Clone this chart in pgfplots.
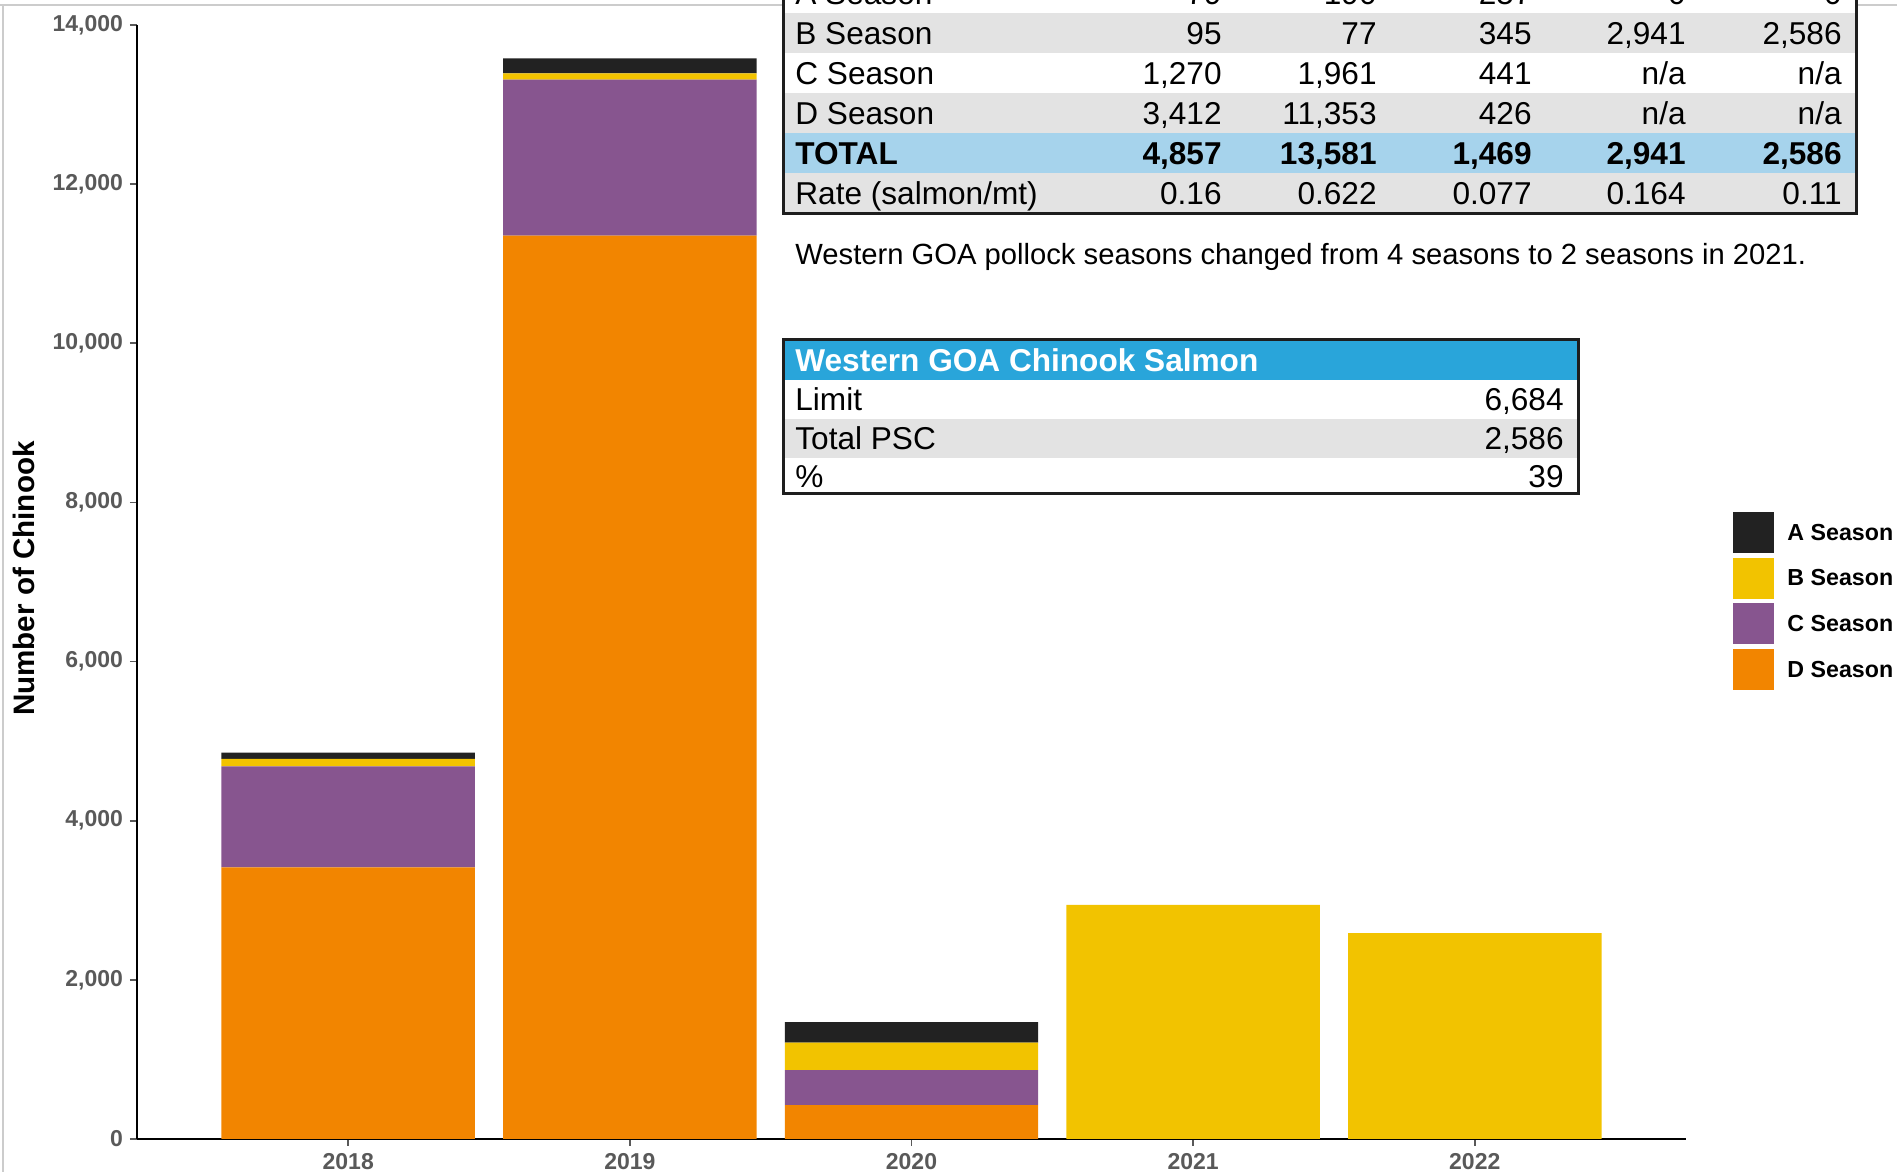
\documentclass[border=0pt]{standalone}
\usepackage{pgfplots}
\pgfplotsset{compat=1.18}
\usepackage{fontspec}
\setmainfont{Liberation Sans}

\definecolor{segA}{HTML}{222222}
\definecolor{segB}{HTML}{F2C300}
\definecolor{segC}{HTML}{87558F}
\definecolor{segD}{HTML}{F28500}
\definecolor{rowgray}{HTML}{E3E3E3}
\definecolor{rowblue}{HTML}{A6D3EC}
\definecolor{headblue}{HTML}{29A5DA}
\definecolor{ticktext}{HTML}{595959}
\definecolor{frame}{HTML}{1E1E1E}

% chinook by season and year
\pgfplotstableread{
x D C B A
0 3412 1270 95 79
1 11353 1961 77 190
2 426 441 345 257
3 0 0 2941 0
4 0 0 2586 0
}\chinook

\tikzset{tbl/.style={inner sep=0pt, font=\fontsize{15.8}{18}\selectfont}}
% one row of the top table: centre y, label, five values
\newcommand{\trow}[7]{%
  \node[tbl, anchor=base west] at (795,#1-11.3) {#2};
  \node[tbl, anchor=base east] at (1222,#1-11.3) {#3};
  \node[tbl, anchor=base east] at (1377,#1-11.3) {#4};
  \node[tbl, anchor=base east] at (1532,#1-11.3) {#5};
  \node[tbl, anchor=base east] at (1686,#1-11.3) {#6};
  \node[tbl, anchor=base east] at (1842,#1-11.3) {#7};
}

\begin{document}
\begin{tikzpicture}
\begin{scope}[x=0.5pt,y=0.5pt]
\draw[black!20, line width=0.75pt] (0,1167) -- (1897,1167);
\draw[black!20, line width=0.75pt] (3,0) -- (3,1167);
\end{scope}

\begin{axis}[
  at={(68.5pt,16.5pt)}, anchor=south west,
  scale only axis, width=774.5pt, height=557pt,
  ybar stacked, bar width=0.9,
  xmin=-0.75, xmax=4.75, ymin=0, ymax=14000,
  axis x line=bottom, axis y line=left,
  axis line style={line width=1.25pt, -},
  xtick={0,...,4}, xticklabels={2018,2019,2020,2021,2022},
  ytick={0,2000,...,14000},
  scaled y ticks=false,
  /pgf/number format/1000 sep={,},
  /pgf/number format/assume math mode=true,
  tick align=outside, major tick length=3.5pt,
  tick style={line width=0.8pt, ticktext},
  ticklabel style={font=\fontsize{11.5}{13}\selectfont\bfseries, text=ticktext},
  ylabel={Number of Chinook},
  ylabel style={font=\fontsize{14.8}{17}\selectfont\bfseries,
    at={(axis description cs:-0.073,0.503)}, anchor=center},
  reverse legend,
  legend image code/.code={\fill[#1] (0pt,-9.6pt) rectangle (20.5pt,10.9pt);},
  legend style={draw=none, fill=none, inner sep=0pt,
    at={(1.0304,0.5632)}, anchor=north west, row sep=2.3pt,
    /tikz/every odd column/.style={column sep=4.5pt},
    font=\fontsize{11.6}{13}\selectfont\bfseries},
  legend cell align=left,
]
\addplot[fill=segD, draw=none] table[x=x,y=D]{\chinook};
\addlegendentry{D Season}
\addplot[fill=segC, draw=none] table[x=x,y=C]{\chinook};
\addlegendentry{C Season}
\addplot[fill=segB, draw=none] table[x=x,y=B]{\chinook};
\addlegendentry{B Season}
\addplot[fill=segA, draw=none] table[x=x,y=A]{\chinook};
\addlegendentry{A Season}
\end{axis}

\begin{scope}[x=0.5pt,y=0.5pt]
% top table, cut by the top edge
\begin{scope}
\clip (0,0) rectangle (1897,1172);
\fill[white] (783,1159) rectangle (1856,1199);
\fill[rowgray] (783,1119) rectangle (1856,1159);
\fill[white] (783,1079) rectangle (1856,1119);
\fill[rowgray] (783,1039) rectangle (1856,1079);
\fill[rowblue] (783,999) rectangle (1856,1039);
\fill[rowgray] (783,958) rectangle (1856,999);
\trow{1179}{A Season}{79}{190}{257}{0}{0}
\trow{1139}{B Season}{95}{77}{345}{2,941}{2,586}
\trow{1099}{C Season}{1,270}{1,961}{441}{n/a}{n/a}
\trow{1059}{D Season}{3,412}{11,353}{426}{n/a}{n/a}
\trow{1019}{\textbf{TOTAL}}{\textbf{4,857}}{\textbf{13,581}}{\textbf{1,469}}{\textbf{2,941}}{\textbf{2,586}}
\trow{978.5}{Rate (salmon/mt)}{0.16}{0.622}{0.077}{0.164}{0.11}
\draw[frame, line width=1.5pt] (783,1199) -- (783,958) -- (1856,958) -- (1856,1199);
\end{scope}

\node[inner sep=0pt, anchor=base west, font=\fontsize{14.6}{17}\selectfont]
  at (795,907.5) {Western GOA pollock seasons changed from 4 seasons to 2 seasons in 2021.};

% limit table
\fill[headblue] (783,792) rectangle (1578,832);
\fill[white] (783,753) rectangle (1578,792);
\fill[rowgray] (783,714) rectangle (1578,753);
\fill[white] (783,678) rectangle (1578,714);
\node[tbl, anchor=base west, text=white, font=\fontsize{15.8}{18}\selectfont\bfseries]
  at (795,812-11.3) {Western GOA Chinook Salmon};
\node[tbl, anchor=base west] at (795,772.5-11.3) {Limit};
\node[tbl, anchor=base east] at (1564,772.5-11.3) {6,684};
\node[tbl, anchor=base west] at (795,733.5-11.3) {Total PSC};
\node[tbl, anchor=base east] at (1564,733.5-11.3) {2,586};
\node[tbl, anchor=base west] at (795,696-11.3) {\%};
\node[tbl, anchor=base east] at (1564,696-11.3) {39};
\draw[frame, line width=1.5pt] (783,678) rectangle (1578,832);

\pgfresetboundingbox
\useasboundingbox (0,0) rectangle (1897,1172);
\end{scope}
\end{tikzpicture}
\end{document}
